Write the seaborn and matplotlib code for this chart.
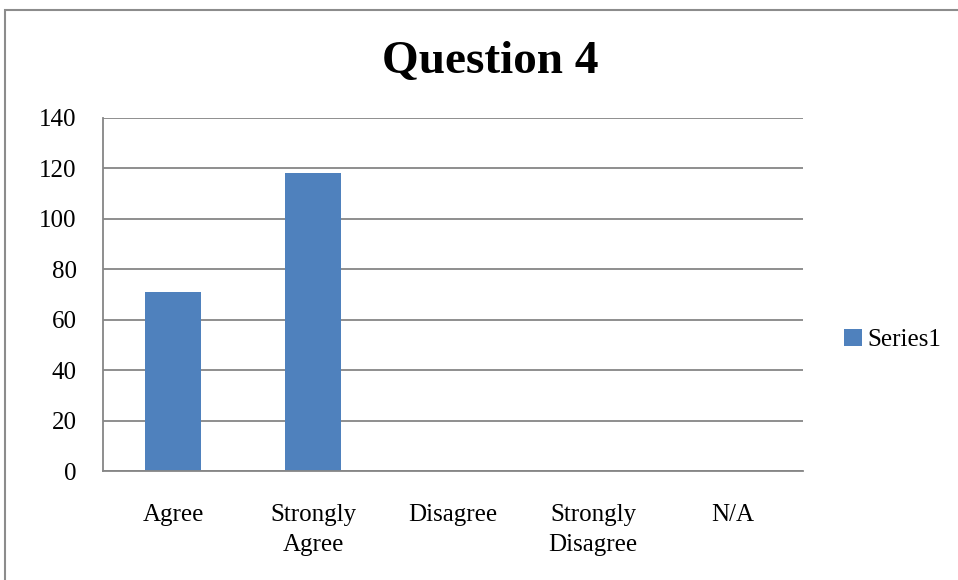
import matplotlib
matplotlib.use("Agg")
import matplotlib.pyplot as plt
import seaborn as sns
import pandas as pd
from matplotlib.patches import Rectangle

# Dados do gráfico
categorias = ["Agree", "Strongly\nAgree", "Disagree", "Strongly\nDisagree", "N/A"]
valores = [71, 118, 0, 0, 0]
serie = "Series1"
titulo = "Question 4"
yticks = [0, 20, 40, 60, 80, 100, 120, 140]

df = pd.DataFrame({"categoria": categorias, "valor": valores})

sns.set_style("white")
plt.rcParams["font.family"] = ["Liberation Serif", "DejaVu Serif"]
plt.rcParams["text.color"] = "black"
plt.rcParams["xtick.color"] = "black"
plt.rcParams["ytick.color"] = "black"

azul = "#4F81BD"
cinza = "#868686"

fig = plt.figure(figsize=(9.58, 5.8), dpi=100)
ax = fig.add_axes([103 / 958, 1 - 471 / 580, 700 / 958, 353 / 580])

sns.barplot(data=df, x="categoria", y="valor", color=azul, width=0.4,
            linewidth=0, saturation=1, ax=ax, label=serie)

ax.set_ylim(0, 140)
ax.set_yticks(yticks)
ax.set_xlim(-0.5, len(categorias) - 0.5)
ax.yaxis.grid(True, color=cinza, linewidth=1.3)
ax.set_axisbelow(True)
ax.set_xlabel("")
ax.set_ylabel("")

for lado in ["top", "right"]:
    ax.spines[lado].set_visible(False)
for lado in ["left", "bottom"]:
    ax.spines[lado].set_color(cinza)
    ax.spines[lado].set_linewidth(1.3)

ax.tick_params(axis="y", length=3, color=cinza, width=1.3, pad=16,
               labelsize=18, labelcolor="black")
ax.tick_params(axis="x", length=0, pad=24, labelsize=18, labelcolor="black")
for t in ax.get_xticklabels():
    t.set_linespacing(1.45)
    t.set_verticalalignment("top")

fig.text(490 / 958, 1 - 62 / 580, titulo, ha="center", va="center",
         fontsize=34, fontweight="bold", color="black")

leg = ax.legend(loc="center left", bbox_to_anchor=(844 / 958, 1 - 340 / 580),
                bbox_transform=fig.transFigure, frameon=False, fontsize=18,
                handlelength=0.7, handleheight=0.7, handletextpad=0.25,
                borderpad=0, borderaxespad=0)

# Borda do gráfico (estilo Excel)
fig.patches.append(Rectangle((5 / 958, -0.1), 1.2, 1.1 - 10.5 / 580,
                             transform=fig.transFigure, fill=False,
                             edgecolor="#8c8c8c", linewidth=1.5))

fig.savefig("out.png", dpi=100)
plt.close(fig)
